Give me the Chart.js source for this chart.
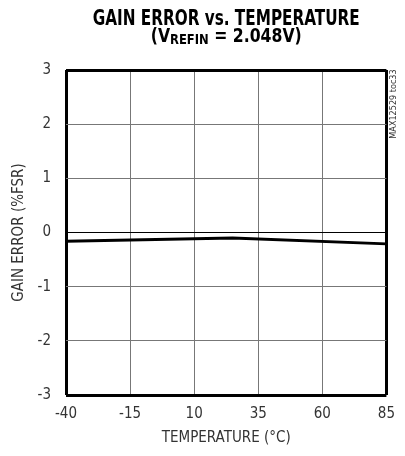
<!DOCTYPE html>
<html>
<head>
<meta charset="utf-8">
<script src="https://cdn.jsdelivr.net/npm/chart.js@4.4.0/dist/chart.umd.min.js"></script>
<style>
  body { margin: 0; background: #fff; }
  #grafo { width: 405px; height: 456px; }
</style>
</head>
<body>
<div id="grafo"><canvas id="gain_error" width="405" height="456"></canvas></div>
<script>
// dados (temperatura em °C, erro de ganho em %FSR)
const temperatura = [-40, 25, 85]
const erro_ganho = [-0.16, -0.10, -0.21]

const ticks_x = [-40, -15, 10, 35, 60, 85]
const ticks_y = [-3, -2, -1, 0, 1, 2, 3]

const titulo_1 = [['GAIN ERROR ', 21, 0], ['vs.', 21, 0], [' TEMPERATURE', 21, 0]]
const titulo_2 = [['(V', 19, 0], ['REFIN', 14, 2], [' = 2.048V)', 19, 0]]
const codigo = 'MAX12529 toc33'

const fonte = "'Liberation Sans Narrow', 'DejaVu Sans Condensed', 'Roboto', sans-serif"

// desenha uma linha de texto em partes, comprimida para a largura pedida
function linhaTitulo(ctx, partes, cx, baseY, largura){
  ctx.save()
  let total = 0
  for (let p of partes){
    ctx.font = 'bold ' + p[1] + 'px ' + fonte
    total += ctx.measureText(p[0]).width
  }
  let sx = largura / total
  ctx.translate(cx - largura / 2, baseY)
  ctx.scale(sx, 1)
  ctx.fillStyle = '#000'
  ctx.textBaseline = 'alphabetic'
  let x = 0
  for (let p of partes){
    ctx.font = 'bold ' + p[1] + 'px ' + fonte
    ctx.fillText(p[0], x, p[2])
    x += ctx.measureText(p[0]).width
  }
  ctx.restore()
}

const titulos = {
  id: 'titulos',
  afterDraw(chart){
    const ctx = chart.ctx
    const area = chart.chartArea
    const cx = (area.left + area.right) / 2
    linhaTitulo(ctx, titulo_1, cx, 25, 267)
    linhaTitulo(ctx, titulo_2, cx, 42, 151)

    ctx.save()
    ctx.translate(area.right + 7, area.top + 34)
    ctx.rotate(-Math.PI / 2)
    ctx.font = '9px ' + fonte
    ctx.fillStyle = '#333'
    ctx.textAlign = 'center'
    ctx.textBaseline = 'middle'
    ctx.fillText(codigo, 0, 0)
    ctx.restore()
  }
}

function corGrade(borda){
  return (c) => {
    if (!c.tick) return '#777'
    if (borda.includes(c.tick.value)) return '#000'
    if (c.tick.value === 0 && borda[0] === -3) return '#000'
    return '#777'
  }
}
function larguraGrade(borda){
  return (c) => (c.tick && borda.includes(c.tick.value)) ? 3 : 1
}

new Chart(document.getElementById('gain_error'), {
  type: 'line',
  data: {
    datasets: [{
      data: temperatura.map((t, i) => ({ x: t, y: erro_ganho[i] })),
      borderColor: '#000',
      borderWidth: 3,
      pointRadius: 0,
      tension: 0,
      fill: false
    }]
  },
  options: {
    responsive: false,
    animation: false,
    layout: { padding: { top: 70, right: 14, left: 0, bottom: 0 } },
    plugins: { legend: { display: false }, tooltip: { enabled: false }, title: { display: false } },
    scales: {
      x: {
        type: 'linear',
        min: -40, max: 85,
        afterBuildTicks: (s) => { s.ticks = ticks_x.map(v => ({ value: v })) },
        afterFit: (s) => { s.height = 61 },
        border: { display: false },
        grid: { color: corGrade([-40, 85]), lineWidth: larguraGrade([-40, 85]), drawTicks: false },
        ticks: { font: { family: fonte, size: 15 }, color: '#333', padding: 10, maxRotation: 0 },
        title: { display: true, text: 'TEMPERATURE (°C)', font: { family: fonte, size: 15 }, color: '#333', padding: { top: 0, bottom: 9 } }
      },
      y: {
        min: -3, max: 3,
        afterBuildTicks: (s) => { s.ticks = ticks_y.map(v => ({ value: v })) },
        afterFit: (s) => { s.width = 66 },
        border: { display: false },
        grid: { color: corGrade([-3, 3]), lineWidth: larguraGrade([-3, 3]), drawTicks: false },
        ticks: { font: { family: fonte, size: 15 }, color: '#333', padding: 15 },
        title: { display: true, text: 'GAIN ERROR (%FSR)', font: { family: fonte, size: 15 }, color: '#333', padding: { top: 10, bottom: 0 } }
      }
    }
  },
  plugins: [titulos]
})
</script>
</body>
</html>
